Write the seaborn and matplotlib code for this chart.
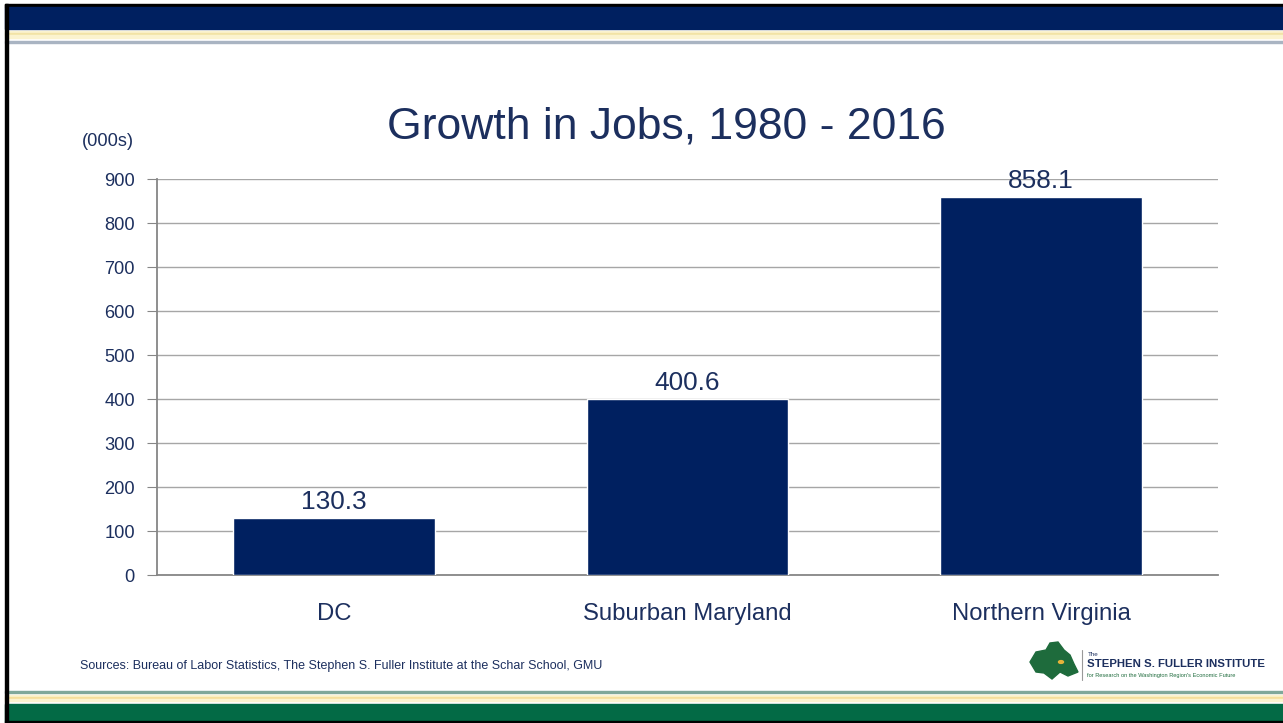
import matplotlib
matplotlib.use('Agg')
import matplotlib.pyplot as plt
import matplotlib.patches as mpatches
from matplotlib import font_manager
import seaborn as sns
import pandas as pd

# 数据
regions = ['DC', 'Suburban Maryland', 'Northern Virginia']
jobs_growth = [130.3, 400.6, 858.1]
y_ticks = [0, 100, 200, 300, 400, 500, 600, 700, 800, 900]

navy = '#002060'
text_navy = '#1C2F5E'

sns.set_style('white')
plt.rcParams['font.family'] = ['Liberation Sans', 'DejaVu Sans']

# 窄体字（类似 Arial Narrow），没有就退回普通字体
installed = {f.name for f in font_manager.fontManager.ttflist}
has_narrow = 'Liberation Sans Narrow' in installed
narrow = ['Liberation Sans Narrow', 'Liberation Sans', 'DejaVu Sans'] if has_narrow else ['Liberation Sans', 'DejaVu Sans']
k = 1.0 if has_narrow else 0.82

df = pd.DataFrame({'region': regions, 'jobs': jobs_growth})

W, H = 1283, 723
fig = plt.figure(figsize=(W / 100, H / 100), dpi=100)


def band(y0, y1, color, x0=5, x1=W):
    # 像素坐标（自上而下）转换为 figure 坐标
    fig.patches.append(mpatches.Rectangle((x0 / W, 1 - y1 / H), (x1 - x0) / W, (y1 - y0) / H,
                                          transform=fig.transFigure, color=color, zorder=0))


# 顶部与底部装饰条
band(4, 7, 'black')
band(7, 29, navy)
band(31, 33, '#FBF3CF')
band(33, 35, '#F2E3A6')
band(35, 38, '#FBF3CF')
band(41, 43, '#A9B4C2')
band(691, 693, '#7FA89A')
band(695, 697, '#FBF3CF')
band(697, 699, '#F5DF9A')
band(699, 701, '#FBF3CF')
band(704, 721, '#036A45')
band(721, 723, 'black')
band(4, H, 'black', 5, 8)

ax = fig.add_axes([157 / W, 148 / H, 1061 / W, 396 / H])
sns.barplot(data=df, x='region', y='jobs', color=navy, width=0.57, saturation=1, ax=ax, zorder=3)

ax.set_ylim(0, 900)
ax.set_xlim(-0.5, len(regions) - 0.5)
ax.set_yticks(y_ticks)
ax.set_yticklabels([str(v) for v in y_ticks], fontsize=16 * k, color=text_navy, family=narrow)
ax.set_xticks(range(len(regions)))
ax.set_xticklabels(regions, fontsize=21 * k, color=text_navy, family=narrow)
ax.set_xticks([i - 0.5 for i in range(len(regions) + 1)], minor=True)
ax.tick_params(axis='x', which='major', length=0, pad=20)
ax.tick_params(axis='x', which='minor', length=7, color='#868686', direction='out')
ax.tick_params(axis='y', length=7, color='#868686', direction='out', pad=9, left=True)
ax.set_xlabel('')
ax.set_ylabel('')
ax.yaxis.grid(True, color='#A6A6A6', linewidth=1)
ax.set_axisbelow(True)
for s in ['top', 'right']:
    ax.spines[s].set_visible(False)
for s in ['left', 'bottom']:
    ax.spines[s].set_color('#868686')
    ax.spines[s].set_linewidth(1.3)

# 数值标签
for i, v in enumerate(jobs_growth):
    ax.text(i, v + 9, f'{v:.1f}', ha='center', va='bottom', fontsize=23 * k, color=text_navy,
            family=narrow)

fig.text(666 / W, 1 - 138 / H, 'Growth in Jobs, 1980 - 2016', ha='center', va='baseline',
         fontsize=32, color=text_navy)
fig.text(82 / W, 1 - 141 / H, '(000s)', ha='left', va='center', fontsize=16 * k, color=text_navy,
         family=narrow)
fig.text(80 / W, 1 - 666 / H,
         'Sources: Bureau of Labor Statistics, The Stephen S. Fuller Institute at the Schar School, GMU',
         ha='left', va='center', fontsize=11 * k, color=text_navy, family=narrow)

# 徽标（近似）
logo = [(1030, 662), (1036, 652), (1046, 650), (1050, 643), (1058, 642), (1064, 650), (1070, 655),
        (1074, 664), (1078, 672), (1068, 676), (1060, 672), (1052, 679), (1044, 673), (1036, 672)]
fig.patches.append(mpatches.Polygon([(x / W, 1 - y / H) for x, y in logo], closed=True,
                                    transform=fig.transFigure, color='#1E6B3C', zorder=2))
fig.patches.append(mpatches.Circle((1061 / W, 1 - 662 / H), 2.5 / W, transform=fig.transFigure,
                                   color='#E8B33A', zorder=3))
fig.lines.append(plt.Line2D([1082 / W, 1082 / W], [1 - 650 / H, 1 - 680 / H],
                            transform=fig.transFigure, color='#999999', linewidth=0.8))
fig.text(1088 / W, 1 - 654 / H, 'The', fontsize=4.5, color=text_navy, va='center', family=narrow)
fig.text(1087 / W, 1 - 664 / H, 'STEPHEN S. FULLER INSTITUTE', fontsize=10 * k, color=text_navy,
         va='center', fontweight='bold', family=narrow)
fig.text(1087 / W, 1 - 675 / H, "for Research on the Washington Region's Economic Future",
         fontsize=5 * k, color='#1E6B3C', va='center', family=narrow)

fig.savefig('out.png', dpi=100)
